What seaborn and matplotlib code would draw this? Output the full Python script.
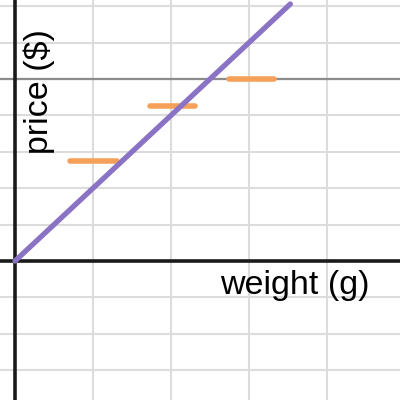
import numpy as np
import pandas as pd
import matplotlib
matplotlib.use("Agg")
import matplotlib.pyplot as plt
import seaborn as sns

# price line: price = 2 * weight
line_x = [0, 3.53]
line_y = [0, 7.06]

# orange price steps (start, end, level)
step_start = [0.71, 1.73, 2.74]
step_end = [1.31, 2.31, 3.32]
step_level = [2.75, 4.25, 5.0]

ref_level = 5.0

sns.set_theme(style="white")
plt.rcParams['font.family'] = ['Liberation Sans', 'DejaVu Sans']

fig = plt.figure(figsize=(4, 4), dpi=100)
ax = fig.add_axes([0, 0, 1, 1])

ax.set_xlim(-15 / 78, 385 / 78)
ax.set_ylim(-139 / 36.4, 261 / 36.4)

# grid
for gx in range(1, 5):
    ax.axvline(gx, color="#dcdcdc", lw=1.5, zorder=0)
for gy in range(-3, 8):
    if gy != 0:
        ax.axhline(gy, color="#dcdcdc", lw=1.5, zorder=0)

ax.axhline(ref_level, color="#8c8c8c", lw=1.6, zorder=1)
ax.axhline(0, color="#1a1a1a", lw=2.6, zorder=2)
ax.axvline(0, color="#1a1a1a", lw=2.6, zorder=2)

line_df = pd.DataFrame({"weight": line_x, "price": line_y})
sns.lineplot(data=line_df, x="weight", y="price", color="#8a72c4", lw=3.8,
             solid_capstyle="round", ax=ax, zorder=4)

seg = pd.DataFrame({
    "weight": step_start + step_end,
    "price": step_level + step_level,
    "step": [0, 1, 2, 0, 1, 2],
})
sns.lineplot(data=seg, x="weight", y="price", units="step", estimator=None,
             color="#f6a05a", lw=4, solid_capstyle="round", ax=ax, zorder=3)

ax.text(2.63, -0.25, "weight (g)", fontsize=24.5, ha="left", va="top",
        color="black")
ax.text(0.11, 2.95, "price ($)", fontsize=24.5, rotation=90, ha="left",
        va="bottom", color="black")

ax.set_xlabel("")
ax.set_ylabel("")
ax.set_xticks([])
ax.set_yticks([])
for s in ax.spines.values():
    s.set_visible(False)

fig.savefig("out.png", dpi=100)
